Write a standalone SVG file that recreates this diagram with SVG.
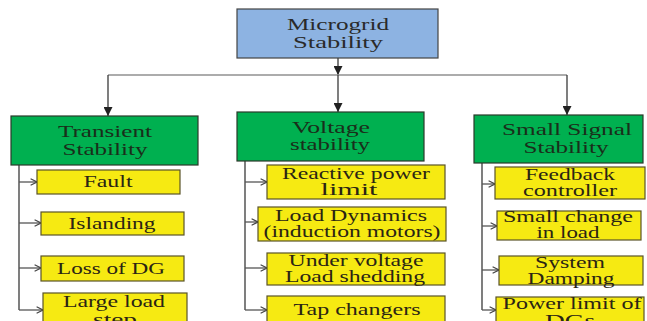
<svg xmlns="http://www.w3.org/2000/svg" width="647" height="321" viewBox="0 0 647 321">
<defs>
<marker id="tri" viewBox="0 0 10 10" refX="10" refY="5" markerWidth="9" markerHeight="9" markerUnits="userSpaceOnUse" orient="auto">
<path d="M0,0 L10,5 L0,10 z" fill="#222"/>
</marker>
<marker id="vee" viewBox="0 0 10 10" refX="9" refY="5" markerWidth="8" markerHeight="8" markerUnits="userSpaceOnUse" orient="auto">
<path d="M1,1 L9,5 L1,9" fill="none" stroke="#444" stroke-width="1.4"/>
</marker>
<style>
text{font-family:"Liberation Serif","Times New Roman",serif;font-size:16px;text-anchor:middle}
.top rect{fill:#8db3e2;stroke:#444;stroke-width:1.2}
.top text{fill:#2a2a2a}
.grn rect{fill:#00b050;stroke:#2a3a2a;stroke-width:1.2}
.grn text{fill:#1a2e1a}
.yel rect{fill:#f6ea12;stroke:#5a5428;stroke-width:1.2}
.yel text{fill:#2a2414}
.c line,.c path{fill:none;stroke:#3a3a3a;stroke-width:1.3}
.c .h{stroke:#909090}
.c .s{stroke:#555;marker-end:url(#vee)}
</style>
</defs>
<rect width="647" height="321" fill="#fff"/>
<g class="c" id="connectors">
<line x1="338" y1="58" x2="338" y2="75" marker-end="url(#tri)"/>
<line class="h" x1="108" y1="75" x2="567" y2="75"/>
<line x1="108" y1="75" x2="108" y2="116" marker-end="url(#tri)"/>
<line x1="338" y1="75" x2="338" y2="112" marker-end="url(#tri)"/>
<line x1="567" y1="75" x2="567" y2="115" marker-end="url(#tri)"/>
<line x1="19" y1="165" x2="19" y2="310"/>
<line class="s" x1="19" y1="182" x2="37" y2="182"/>
<line class="s" x1="19" y1="223" x2="41" y2="223"/>
<line class="s" x1="19" y1="268" x2="41" y2="268"/>
<line class="s" x1="19" y1="310" x2="43" y2="310"/>
<line x1="245" y1="161" x2="245" y2="310"/>
<line class="s" x1="245" y1="182" x2="267" y2="182"/>
<line class="s" x1="245" y1="222" x2="258" y2="222"/>
<line class="s" x1="245" y1="268" x2="267" y2="268"/>
<line class="s" x1="245" y1="310" x2="267" y2="310"/>
<line x1="482" y1="163" x2="482" y2="310"/>
<line class="s" x1="482" y1="184" x2="495" y2="184"/>
<line class="s" x1="482" y1="226" x2="497" y2="226"/>
<line class="s" x1="482" y1="270" x2="499" y2="270"/>
<line class="s" x1="482" y1="310" x2="496" y2="310"/>
</g>
<g class="top" id="microgrid">
<rect x="237" y="9" width="201" height="49"/>
<text x="338" y="30" textLength="102" lengthAdjust="spacingAndGlyphs">Microgrid</text>
<text x="338" y="48" textLength="90" lengthAdjust="spacingAndGlyphs">Stability</text>
</g>
<g class="grn" id="transient">
<rect x="11" y="116" width="187" height="49"/>
<text x="105" y="137" textLength="94" lengthAdjust="spacingAndGlyphs">Transient</text>
<text x="105" y="155" textLength="85" lengthAdjust="spacingAndGlyphs">Stability</text>
</g>
<g class="grn" id="voltage">
<rect x="237" y="112" width="187" height="49"/>
<text x="331" y="133" textLength="78" lengthAdjust="spacingAndGlyphs">Voltage</text>
<text x="330" y="150" textLength="80" lengthAdjust="spacingAndGlyphs">stability</text>
</g>
<g class="grn" id="smallsignal">
<rect x="474" y="115" width="169" height="48"/>
<text x="567" y="135" textLength="130" lengthAdjust="spacingAndGlyphs">Small Signal</text>
<text x="566" y="153" textLength="85" lengthAdjust="spacingAndGlyphs">Stability</text>
</g>
<g class="yel" id="fault">
<rect x="37" y="170" width="143" height="24"/>
<text x="108" y="187" textLength="49" lengthAdjust="spacingAndGlyphs">Fault</text>
</g>
<g class="yel" id="islanding">
<rect x="41" y="212" width="143" height="23"/>
<text x="112" y="229" textLength="87" lengthAdjust="spacingAndGlyphs">Islanding</text>
</g>
<g class="yel" id="lossdg">
<rect x="41" y="256" width="143" height="25"/>
<text x="111" y="274" textLength="108" lengthAdjust="spacingAndGlyphs">Loss of DG</text>
</g>
<g class="yel" id="largeload">
<rect x="43" y="293" width="144" height="40"/>
<text x="114" y="307" textLength="102" lengthAdjust="spacingAndGlyphs">Large load</text>
<text x="115" y="325" textLength="44" lengthAdjust="spacingAndGlyphs">step</text>
</g>
<g class="yel" id="reactive">
<rect x="267" y="165" width="178" height="34"/>
<text x="356" y="179" textLength="148" lengthAdjust="spacingAndGlyphs">Reactive power</text>
<text x="349" y="195" textLength="57" lengthAdjust="spacingAndGlyphs">limit</text>
</g>
<g class="yel" id="loaddyn">
<rect x="258" y="207" width="188" height="34"/>
<text x="351" y="221" textLength="152" lengthAdjust="spacingAndGlyphs">Load Dynamics</text>
<text x="352" y="237" textLength="177" lengthAdjust="spacingAndGlyphs">(induction motors)</text>
</g>
<g class="yel" id="undervoltage">
<rect x="267" y="253" width="178" height="32"/>
<text x="356" y="266" textLength="135" lengthAdjust="spacingAndGlyphs">Under voltage</text>
<text x="355" y="282" textLength="140" lengthAdjust="spacingAndGlyphs">Load shedding</text>
</g>
<g class="yel" id="tapchangers">
<rect x="267" y="296" width="178" height="37"/>
<text x="357" y="315" textLength="127" lengthAdjust="spacingAndGlyphs">Tap changers</text>
</g>
<g class="yel" id="feedback">
<rect x="495" y="167" width="150" height="32"/>
<text x="570" y="180" textLength="90" lengthAdjust="spacingAndGlyphs">Feedback</text>
<text x="570" y="196" textLength="94" lengthAdjust="spacingAndGlyphs">controller</text>
</g>
<g class="yel" id="smallchange">
<rect x="497" y="211" width="144" height="29"/>
<text x="568" y="222" textLength="130" lengthAdjust="spacingAndGlyphs">Small change</text>
<text x="568" y="238" textLength="63" lengthAdjust="spacingAndGlyphs">in load</text>
</g>
<g class="yel" id="damping">
<rect x="499" y="256" width="144" height="29"/>
<text x="570" y="268" textLength="70" lengthAdjust="spacingAndGlyphs">System</text>
<text x="571" y="284" textLength="87" lengthAdjust="spacingAndGlyphs">Damping</text>
</g>
<g class="yel" id="powerlimit">
<rect x="496" y="297" width="148" height="36"/>
<text x="572" y="309" textLength="139" lengthAdjust="spacingAndGlyphs">Power limit of</text>
<text x="570" y="326" textLength="50" lengthAdjust="spacingAndGlyphs">DGs</text>
</g>
</svg>
